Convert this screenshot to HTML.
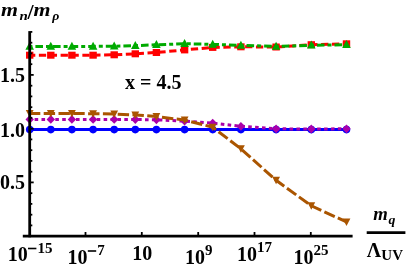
<!DOCTYPE html><html><head><meta charset="utf-8"><style>html,body{margin:0;padding:0;background:#fff}svg{display:block;will-change:transform}text{font-family:"Liberation Serif",serif;font-weight:bold;fill:#000}</style></head><body>
<svg width="407" height="268" viewBox="0 0 407 268">
<rect width="407" height="268" fill="#fff"/>
<path d="M29.7,129.6 L50.8,129.6 L71.9,129.6 L93.1,129.6 L114.2,129.6 L135.3,129.6 L156.4,129.6 L184.6,129.6 L212.7,129.6 L240.9,129.6 L276.1,129.6 L311.3,129.6 L346.5,129.6" stroke="#0000ff" stroke-width="3" fill="none"/>
<circle cx="29.7" cy="129.6" r="3.8" fill="#0000ff"/>
<circle cx="50.8" cy="129.6" r="3.8" fill="#0000ff"/>
<circle cx="71.9" cy="129.6" r="3.8" fill="#0000ff"/>
<circle cx="93.1" cy="129.6" r="3.8" fill="#0000ff"/>
<circle cx="114.2" cy="129.6" r="3.8" fill="#0000ff"/>
<circle cx="135.3" cy="129.6" r="3.8" fill="#0000ff"/>
<circle cx="156.4" cy="129.6" r="3.8" fill="#0000ff"/>
<circle cx="184.6" cy="129.6" r="3.8" fill="#0000ff"/>
<circle cx="212.7" cy="129.6" r="3.8" fill="#0000ff"/>
<circle cx="240.9" cy="129.6" r="3.8" fill="#0000ff"/>
<circle cx="276.1" cy="129.6" r="3.8" fill="#0000ff"/>
<circle cx="311.3" cy="129.6" r="3.8" fill="#0000ff"/>
<circle cx="346.5" cy="129.6" r="3.8" fill="#0000ff"/>
<path d="M29.7,55.2 L50.8,55.2 L71.9,55.2 L93.1,55.2 L114.2,54.8 L135.3,53.8 L156.4,52.5 L184.6,49.9 L212.7,47.4 L240.9,46.8 L276.1,47 L311.3,44.7 L346.5,43.8" stroke="#ff0000" stroke-width="3" fill="none" stroke-dasharray="7.3,3.57" stroke-dashoffset="1.7"/>
<rect x="26.0" y="51.7" width="7.4" height="7" fill="#ff0000"/>
<rect x="47.099999999999994" y="51.7" width="7.4" height="7" fill="#ff0000"/>
<rect x="68.2" y="51.7" width="7.4" height="7" fill="#ff0000"/>
<rect x="89.39999999999999" y="51.7" width="7.4" height="7" fill="#ff0000"/>
<rect x="110.5" y="51.3" width="7.4" height="7" fill="#ff0000"/>
<rect x="131.60000000000002" y="50.3" width="7.4" height="7" fill="#ff0000"/>
<rect x="152.70000000000002" y="49.0" width="7.4" height="7" fill="#ff0000"/>
<rect x="180.9" y="46.4" width="7.4" height="7" fill="#ff0000"/>
<rect x="209.0" y="43.9" width="7.4" height="7" fill="#ff0000"/>
<rect x="237.20000000000002" y="43.3" width="7.4" height="7" fill="#ff0000"/>
<rect x="272.40000000000003" y="43.5" width="7.4" height="7" fill="#ff0000"/>
<rect x="307.6" y="41.2" width="7.4" height="7" fill="#ff0000"/>
<rect x="342.8" y="40.3" width="7.4" height="7" fill="#ff0000"/>
<path d="M29.7,46.4 L50.8,46.4 L71.9,46.4 L93.1,46.4 L114.2,46.2 L135.3,45.6 L156.4,44.8 L184.6,43.7 L212.7,44.4 L240.9,45.4 L276.1,46.4 L311.3,45.3 L346.5,44.8" stroke="#00aa00" stroke-width="3" fill="none" stroke-dasharray="7.6,3,4,3" stroke-dashoffset="11.9"/>
<path d="M29.7,41.699999999999996 L34.0,49.699999999999996 L25.4,49.699999999999996Z" fill="#00aa00"/>
<path d="M50.8,41.699999999999996 L55.099999999999994,49.699999999999996 L46.5,49.699999999999996Z" fill="#00aa00"/>
<path d="M71.9,41.699999999999996 L76.2,49.699999999999996 L67.60000000000001,49.699999999999996Z" fill="#00aa00"/>
<path d="M93.1,41.699999999999996 L97.39999999999999,49.699999999999996 L88.8,49.699999999999996Z" fill="#00aa00"/>
<path d="M114.2,41.5 L118.5,49.5 L109.9,49.5Z" fill="#00aa00"/>
<path d="M135.3,40.9 L139.60000000000002,48.9 L131.0,48.9Z" fill="#00aa00"/>
<path d="M156.4,40.099999999999994 L160.70000000000002,48.099999999999994 L152.1,48.099999999999994Z" fill="#00aa00"/>
<path d="M184.6,39.0 L188.9,47.0 L180.29999999999998,47.0Z" fill="#00aa00"/>
<path d="M212.7,39.699999999999996 L217.0,47.699999999999996 L208.39999999999998,47.699999999999996Z" fill="#00aa00"/>
<path d="M240.9,40.699999999999996 L245.20000000000002,48.699999999999996 L236.6,48.699999999999996Z" fill="#00aa00"/>
<path d="M276.1,41.699999999999996 L280.40000000000003,49.699999999999996 L271.8,49.699999999999996Z" fill="#00aa00"/>
<path d="M311.3,40.599999999999994 L315.6,48.599999999999994 L307.0,48.599999999999994Z" fill="#00aa00"/>
<path d="M346.5,40.099999999999994 L350.8,48.099999999999994 L342.2,48.099999999999994Z" fill="#00aa00"/>
<path d="M29.7,119.4 L50.8,119.4 L71.9,119.4 L93.1,119.4 L114.2,119.4 L135.3,119.5 L156.4,119.8 L184.6,121.2 L212.7,123.1 L240.9,126.3 L276.1,128.8 L311.3,129 L346.5,128.8" stroke="#aa00aa" stroke-width="3" fill="none" stroke-dasharray="3.6,3.3" stroke-dashoffset="2"/>
<path d="M29.7,115.0 L33.9,119.4 L29.7,123.80000000000001 L25.5,119.4Z" fill="#aa00aa"/>
<path d="M50.8,115.0 L55.0,119.4 L50.8,123.80000000000001 L46.599999999999994,119.4Z" fill="#aa00aa"/>
<path d="M71.9,115.0 L76.10000000000001,119.4 L71.9,123.80000000000001 L67.7,119.4Z" fill="#aa00aa"/>
<path d="M93.1,115.0 L97.3,119.4 L93.1,123.80000000000001 L88.89999999999999,119.4Z" fill="#aa00aa"/>
<path d="M114.2,115.0 L118.4,119.4 L114.2,123.80000000000001 L110.0,119.4Z" fill="#aa00aa"/>
<path d="M135.3,115.1 L139.5,119.5 L135.3,123.9 L131.10000000000002,119.5Z" fill="#aa00aa"/>
<path d="M156.4,115.39999999999999 L160.6,119.8 L156.4,124.2 L152.20000000000002,119.8Z" fill="#aa00aa"/>
<path d="M184.6,116.8 L188.79999999999998,121.2 L184.6,125.60000000000001 L180.4,121.2Z" fill="#aa00aa"/>
<path d="M212.7,118.69999999999999 L216.89999999999998,123.1 L212.7,127.5 L208.5,123.1Z" fill="#aa00aa"/>
<path d="M240.9,121.89999999999999 L245.1,126.3 L240.9,130.7 L236.70000000000002,126.3Z" fill="#aa00aa"/>
<path d="M276.1,124.4 L280.3,128.8 L276.1,133.20000000000002 L271.90000000000003,128.8Z" fill="#aa00aa"/>
<path d="M311.3,124.6 L315.5,129 L311.3,133.4 L307.1,129Z" fill="#aa00aa"/>
<path d="M346.5,124.4 L350.7,128.8 L346.5,133.20000000000002 L342.3,128.8Z" fill="#aa00aa"/>
<path d="M29.7,113.5 L50.8,113.5 L71.9,113.5 L93.1,113.7 L114.2,114 L135.3,114.9 L156.4,116.6 L184.6,120 L212.7,127.2 L240.9,148.8 L276.1,180.3 L311.3,205.8 L346.5,221.9" stroke="#aa5500" stroke-width="3" fill="none" stroke-dasharray="11.4,3.4" stroke-dashoffset="0.8"/>
<path d="M29.7,117.5 L33.6,110.0 L25.8,110.0Z" fill="#aa5500"/>
<path d="M50.8,117.5 L54.699999999999996,110.0 L46.9,110.0Z" fill="#aa5500"/>
<path d="M71.9,117.5 L75.80000000000001,110.0 L68.0,110.0Z" fill="#aa5500"/>
<path d="M93.1,117.7 L97.0,110.2 L89.19999999999999,110.2Z" fill="#aa5500"/>
<path d="M114.2,118.0 L118.10000000000001,110.5 L110.3,110.5Z" fill="#aa5500"/>
<path d="M135.3,118.9 L139.20000000000002,111.4 L131.4,111.4Z" fill="#aa5500"/>
<path d="M156.4,120.6 L160.3,113.1 L152.5,113.1Z" fill="#aa5500"/>
<path d="M184.6,124.0 L188.5,116.5 L180.7,116.5Z" fill="#aa5500"/>
<path d="M212.7,131.2 L216.6,123.7 L208.79999999999998,123.7Z" fill="#aa5500"/>
<path d="M240.9,152.8 L244.8,145.3 L237.0,145.3Z" fill="#aa5500"/>
<path d="M276.1,184.3 L280.0,176.8 L272.20000000000005,176.8Z" fill="#aa5500"/>
<path d="M311.3,209.8 L315.2,202.3 L307.40000000000003,202.3Z" fill="#aa5500"/>
<path d="M346.5,225.9 L350.4,218.4 L342.6,218.4Z" fill="#aa5500"/>
<path d="M29.7,31.1 V237.3" stroke="#000" stroke-width="2.8" fill="none"/>
<path d="M22.8,236.1 H352.6" stroke="#000" stroke-width="2.6" fill="none"/>
<path d="M30.7,225.4 h1.6" stroke="#000" stroke-width="1.8"/>
<path d="M30.7,214.7 h1.6" stroke="#000" stroke-width="1.8"/>
<path d="M30.7,203.9 h1.6" stroke="#000" stroke-width="1.8"/>
<path d="M30.7,193.2 h1.6" stroke="#000" stroke-width="1.8"/>
<path d="M30.7,182.4 h3" stroke="#000" stroke-width="1.8"/>
<path d="M30.7,171.7 h1.6" stroke="#000" stroke-width="1.8"/>
<path d="M30.7,160.9 h1.6" stroke="#000" stroke-width="1.8"/>
<path d="M30.7,150.2 h1.6" stroke="#000" stroke-width="1.8"/>
<path d="M30.7,139.4 h1.6" stroke="#000" stroke-width="1.8"/>
<path d="M30.7,128.7 h3" stroke="#000" stroke-width="1.8"/>
<path d="M30.7,117.9 h1.6" stroke="#000" stroke-width="1.8"/>
<path d="M30.7,107.2 h1.6" stroke="#000" stroke-width="1.8"/>
<path d="M30.7,96.4 h1.6" stroke="#000" stroke-width="1.8"/>
<path d="M30.7,85.7 h1.6" stroke="#000" stroke-width="1.8"/>
<path d="M30.7,74.9 h3" stroke="#000" stroke-width="1.8"/>
<path d="M30.7,64.2 h1.6" stroke="#000" stroke-width="1.8"/>
<path d="M30.7,53.4 h1.6" stroke="#000" stroke-width="1.8"/>
<path d="M30.7,42.7 h1.6" stroke="#000" stroke-width="1.8"/>
<path d="M30.7,31.9 h1.6" stroke="#000" stroke-width="1.8"/>
<path d="M85.5,236 v-4" stroke="#000" stroke-width="1.8"/>
<path d="M141.8,236 v-4" stroke="#000" stroke-width="1.8"/>
<path d="M198.2,236 v-4" stroke="#000" stroke-width="1.8"/>
<path d="M254.5,236 v-4" stroke="#000" stroke-width="1.8"/>
<path d="M310.8,236 v-4" stroke="#000" stroke-width="1.8"/>
<g opacity="0.999">
<text x="0" y="82.2" font-size="20">1.5</text>
<text x="0" y="136.5" font-size="20">1.0</text>
<text x="0" y="189" font-size="20">0.5</text>
<text x="7.7" y="261" font-size="20">10</text><rect x="28.0" y="247.7" width="8.4" height="1.6" fill="#000"/><text x="37.5" y="252.5" font-size="15">15</text>
<text x="67.5" y="263.5" font-size="20">10</text><rect x="87.8" y="250.2" width="8.4" height="1.6" fill="#000"/><text x="97.3" y="255.0" font-size="15">7</text>
<text x="132.3" y="259.5" font-size="20">10</text>
<text x="185" y="263.5" font-size="20">10</text><text x="205" y="255.0" font-size="15">9</text>
<text x="237" y="260.5" font-size="20">10</text><text x="257" y="252.0" font-size="15">17</text>
<text x="293.5" y="263.5" font-size="20">10</text><text x="313.5" y="255.0" font-size="15">25</text>
<text transform="translate(125 88.6) scale(1 1)" font-size="20">x = 4.5</text>
<text transform="translate(0.9 16) scale(1.15 1)" font-size="19" font-style="italic">m</text>
<text transform="translate(19.4 19.5) scale(1.15 1)" font-size="13" font-style="italic">n</text>
<text transform="translate(27.6 19) scale(1 1)" font-size="22">/</text>
<text transform="translate(33.4 16) scale(1.15 1)" font-size="19" font-style="italic">m</text>
<text transform="translate(52.2 19.6) scale(1.15 1)" font-size="12" font-style="italic">ρ</text>
<text transform="translate(373.2 220.4) scale(1.04 1)" font-size="18" font-style="italic">m</text>
<text transform="translate(388.4 223.8) scale(1.2 1)" font-size="11.5" font-style="italic">q</text>
<path d="M366.7,232.6 H405.4" stroke="#000" stroke-width="2.8"/>
<text transform="translate(366.8 257.4) scale(1 1)" font-size="20">Λ</text>
<text transform="translate(381.3 260.3) scale(1 1)" font-size="15">UV</text>
</g>
</svg></body></html>
